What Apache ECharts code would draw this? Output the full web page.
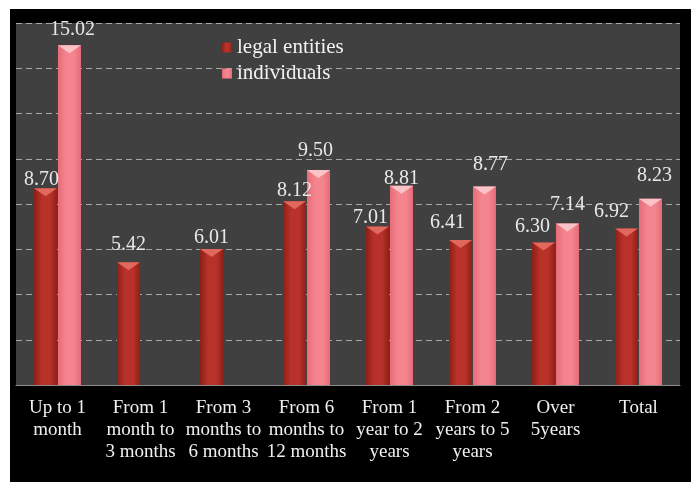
<!DOCTYPE html>
<html>
<head>
<meta charset="utf-8">
<script src="https://cdn.jsdelivr.net/npm/echarts@6/dist/echarts.min.js"></script>
<style>
  html, body { margin: 0; padding: 0; background: #ffffff; }
  #chart { position: absolute; left: 10px; top: 9px; width: 681px; height: 473px; background: #000000; }
</style>
</head>
<body>
<div id="chart"></div>
<script>
// values
const categories = [
    'Up to 1\nmonth',
    'From 1\nmonth to\n3 months',
    'From 3\nmonths to\n6 months',
    'From 6\nmonths to\n12 months',
    'From 1\nyear to 2\nyears',
    'From 2\nyears to 5\nyears',
    'Over\n5years',
    'Total'
];
const legalEntities = [8.70, 5.42, 6.01, 8.12, 7.01, 6.41, 6.30, 6.92];
const individuals = [15.02, null, null, 9.50, 8.81, 8.77, 7.14, 8.23];
const yTicks = { min: 0, max: 16, interval: 2 };

const serif = '"Liberation Serif", "DejaVu Serif", serif';

const myChart = echarts.init(document.getElementById('chart'));

// horizontal gradient for the rounded look of the bars
const barGradient = (edge, mid) => new echarts.graphic.LinearGradient(0, 0, 1, 0, [
    { offset: 0, color: edge },
    { offset: 0.35, color: mid },
    { offset: 0.7, color: mid },
    { offset: 1, color: edge }
]);

const redFill = barGradient('#8e1f17', '#b8322a');
const pinkFill = barGradient('#e56c78', '#f4848e');

// label placement nudges (Excel moved some labels to avoid overlaps)
const legalLabelNudge = [[-4, -2], [0, 8], [0, 1], [0, 1], [-7, -1], [-13, 7], [-11, 6], [-15, 7]];
const indivLabelNudge = [[3, 5], [0, 0], [0, 0], [-3, 9], [0, -3], [6, 12], [0, 9], [4, 13]];

const labelFor = (values, nudges) => values.map((v, i) => ({
    value: v,
    label: { offset: [nudges[i][0], 0], distance: nudges[i][1] }
}));

const valueLabel = {
    show: true,
    position: 'top',
    color: '#e8e8e8',
    fontFamily: serif,
    fontSize: 20,
    formatter: p => p.value.toFixed(2)
};

const bevel = 'path://M0,0 L10,0 L5,3 Z';

const option = {
    backgroundColor: '#000000',
    animation: false,
    grid: {
        left: 6,
        right: 11,
        top: 14,
        bottom: 97,
        show: true,
        backgroundColor: '#404040',
        borderWidth: 0
    },
    legend: {
        data: ['legal entities', 'individuals'],
        orient: 'vertical',
        left: 212,
        top: 28,
        padding: 0,
        itemWidth: 10,
        itemHeight: 10,
        itemGap: 5,
        itemTextGap: 4,
        icon: 'rect',
        textStyle: { color: '#f2f2f2', fontFamily: serif, fontSize: 21 }
    },
    xAxis: {
        type: 'category',
        data: categories,
        axisLine: { lineStyle: { color: '#8c8c8c', width: 1 } },
        axisTick: { length: 7, lineStyle: { color: '#8c8c8c' } },
        axisLabel: {
            interval: 0,
            margin: 12,
            color: '#f0f0f0',
            fontFamily: serif,
            fontSize: 19,
            lineHeight: 22
        }
    },
    yAxis: {
        type: 'value',
        min: yTicks.min,
        max: yTicks.max,
        interval: yTicks.interval,
        axisLine: { show: false },
        axisTick: { show: false },
        axisLabel: { show: false },
        splitLine: {
            lineStyle: { color: '#a8a8a8', type: [6, 4], width: 1 }
        }
    },
    series: [
        {
            name: 'legal entities',
            type: 'bar',
            barWidth: 23,
            barGap: '4%',
            itemStyle: { color: redFill },
            label: valueLabel,
            data: labelFor(legalEntities, legalLabelNudge)
        },
        {
            name: 'individuals',
            type: 'bar',
            barWidth: 23,
            barGap: '4%',
            itemStyle: { color: pinkFill },
            label: valueLabel,
            data: labelFor(individuals, indivLabelNudge)
        },
        // light bevel on top of each bar
        {
            name: 'legal bevel',
            type: 'pictorialBar',
            barWidth: 23,
            barGap: '4%',
            symbol: bevel,
            symbolSize: [23, 8],
            symbolPosition: 'end',
            itemStyle: { color: '#e0685c' },
            z: 3,
            silent: true,
            data: legalEntities
        },
        {
            name: 'individual bevel',
            type: 'pictorialBar',
            barWidth: 23,
            barGap: '4%',
            symbol: bevel,
            symbolSize: [23, 8],
            symbolPosition: 'end',
            itemStyle: { color: '#fbc2c7' },
            z: 3,
            silent: true,
            data: individuals
        }
    ]
};

myChart.setOption(option);
</script>
</body>
</html>
